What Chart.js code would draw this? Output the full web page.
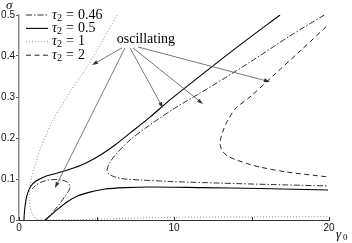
<!DOCTYPE html>
<html>
<head>
<meta charset="utf-8">
<script src="https://cdn.jsdelivr.net/npm/chart.js@4"></script>
<style>
  body { margin: 0; background: #fff; }
  #wrap { width: 352px; height: 243px; }
</style>
</head>
<body>
<div id="wrap"><canvas id="myChart"></canvas></div>
<script>
// tick labels
var xTicks = [0, 5, 10, 15, 20];
var xTickLabels = ['0', '', '10', '', '20'];
var yTicks = [0, 0.1, 0.2, 0.3, 0.4, 0.5];
var yTickLabels = ['0', '0.1', '0.2', '0.3', '0.4', '0.5'];

// legend values for tau_2
var tauValues = ['0.46', '0.5', '1', '2'];

// tau2 = 0.46 (dash-dot) : small loop near origin + C-shaped branch
var t046LoopX = [1.74, 2.19, 2.65, 3.03, 3.23, 3.29, 3.10, 2.65, 2.0, 1.48, 1.10, 0.84];
var t046LoopY = [0, 0.0195, 0.041, 0.061, 0.073, 0.083, 0.093, 0.098, 0.098, 0.093, 0.085, 0.076];
var t046CX = [19.7, 17.48, 14.9, 12.32, 10.06, 8.45, 7.16, 6.32, 5.87, 5.68, 5.81, 6.19, 6.84, 7.81, 9.74, 12.97, 16.19, 19.94];
var t046CY = [0.5, 0.449, 0.385, 0.324, 0.273, 0.232, 0.195, 0.163, 0.141, 0.122, 0.112, 0.105, 0.100, 0.0976, 0.094, 0.090, 0.0866, 0.083];

// tau2 = 0.5 (solid) : upper and lower branch
var t05UpX = [0.32, 0.35, 0.45, 0.58, 0.77, 1.10, 1.61, 2.32, 2.97, 3.61, 4.26, 5.23, 6.19, 7.16, 8.45, 9.74, 11.68, 14.26, 16.84];
var t05UpY = [0, 0.0195, 0.049, 0.068, 0.083, 0.095, 0.105, 0.113, 0.12, 0.128, 0.138, 0.158, 0.183, 0.212, 0.251, 0.293, 0.351, 0.427, 0.5];
var t05LowX = [1.68, 2.0, 2.52, 3.10, 3.81, 4.58, 5.55, 6.84, 8.45, 11.68, 15.55, 19.94];
var t05LowY = [0, 0.0098, 0.027, 0.044, 0.059, 0.068, 0.0756, 0.079, 0.0805, 0.079, 0.0768, 0.073];

// tau2 = 1 (dotted)
var t1UpX = [6.32, 5.23, 4.26, 3.29, 2.65, 2.19, 1.74, 1.35, 1.10, 0.84, 0.71, 0.68, 0.71, 0.84, 1.03, 1.23];
var t1UpY = [0.5, 0.427, 0.366, 0.312, 0.273, 0.244, 0.207, 0.171, 0.141, 0.110, 0.078, 0.054, 0.032, 0.0171, 0.0049, 0];
var t1LowX = [1.23, 4, 6, 8, 10, 14, 20];
var t1LowY = [0, 0.001, 0.003, 0.005, 0.0065, 0.0075, 0.008];

// tau2 = 2 (dashed)
var t2X = [19.81, 18.13, 16.52, 14.9, 14.0, 13.48, 13.16, 12.97, 13.03, 13.16, 13.55, 14.06, 14.77, 15.55, 17.29, 19.94];
var t2Y = [0.471, 0.412, 0.356, 0.300, 0.273, 0.244, 0.217, 0.190, 0.176, 0.166, 0.154, 0.146, 0.137, 0.129, 0.117, 0.105];

// "oscillating" annotation and its arrows
var noteText = 'oscillating';
var noteX = 8.19, noteY = 0.432;
var arrowFromX = [6.65, 6.84, 7.16, 7.35, 7.68];
var arrowFromY = [0.42, 0.42, 0.42, 0.42, 0.422];
var arrowToX = [4.71, 2.32, 9.29, 11.87, 16.19];
var arrowToY = [0.378, 0.078, 0.273, 0.283, 0.337];

function pts(xs, ys) {
  return xs.map(function (v, i) { return { x: v, y: ys[i] }; });
}

var styles = [
  { color: '#333', dash: [6, 2, 1.5, 2], width: 1 },
  { color: '#000', dash: [], width: 1.1 },
  { color: '#8c8c8c', dash: [1, 2], width: 1 },
  { color: '#222', dash: [5, 3.5], width: 1 }
];

function ds(xs, ys, s) {
  return {
    data: pts(xs, ys),
    showLine: true,
    borderColor: styles[s].color,
    borderDash: styles[s].dash,
    borderWidth: styles[s].width,
    pointRadius: 0,
    tension: 0.3,
    fill: false
  };
}

var overlay = {
  id: 'overlay',
  afterDatasetsDraw: function (chart) {
    var ctx = chart.ctx, x = chart.scales.x, y = chart.scales.y;
    var area = chart.chartArea;
    ctx.save();

    // x tick marks pointing into the plot
    ctx.strokeStyle = '#333';
    ctx.lineWidth = 1;
    xTicks.forEach(function (v) {
      var px = Math.round(x.getPixelForValue(v)) + 0.5;
      ctx.beginPath();
      ctx.moveTo(px, area.bottom);
      ctx.lineTo(px, area.bottom - 3);
      ctx.stroke();
    });

    // arrows
    ctx.strokeStyle = '#555';
    ctx.fillStyle = '#333';
    ctx.lineWidth = 0.8;
    for (var i = 0; i < arrowFromX.length; i++) {
      var x0 = x.getPixelForValue(arrowFromX[i]), y0 = y.getPixelForValue(arrowFromY[i]);
      var x1 = x.getPixelForValue(arrowToX[i]), y1 = y.getPixelForValue(arrowToY[i]);
      var a = Math.atan2(y1 - y0, x1 - x0);
      ctx.beginPath();
      ctx.moveTo(x0, y0);
      ctx.lineTo(x1 - 4 * Math.cos(a), y1 - 4 * Math.sin(a));
      ctx.stroke();
      ctx.beginPath();
      ctx.moveTo(x1, y1);
      ctx.lineTo(x1 - 6 * Math.cos(a) + 2 * Math.sin(a), y1 - 6 * Math.sin(a) - 2 * Math.cos(a));
      ctx.lineTo(x1 - 6 * Math.cos(a) - 2 * Math.sin(a), y1 - 6 * Math.sin(a) + 2 * Math.cos(a));
      ctx.closePath();
      ctx.fill();
    }

    // annotation text
    ctx.fillStyle = '#000';
    ctx.font = '14px "Liberation Serif", serif';
    ctx.textAlign = 'center';
    ctx.textBaseline = 'alphabetic';
    ctx.fillText(noteText, x.getPixelForValue(noteX), y.getPixelForValue(noteY));

    // legend
    ctx.textAlign = 'left';
    ctx.textBaseline = 'middle';
    tauValues.forEach(function (val, k) {
      var ly = 15 + k * 13.4;
      var s = styles[k];
      ctx.strokeStyle = s.color;
      ctx.lineWidth = s.width;
      ctx.setLineDash(s.dash);
      ctx.beginPath();
      ctx.moveTo(26, ly);
      ctx.lineTo(48, ly);
      ctx.stroke();
      ctx.setLineDash([]);
      var tx = 52;
      ctx.fillStyle = '#000';
      ctx.font = 'italic 14px "Liberation Serif", serif';
      ctx.fillText('\u03c4', tx, ly);
      tx += ctx.measureText('\u03c4').width;
      ctx.font = '10px "Liberation Serif", serif';
      ctx.fillText('2', tx, ly + 3);
      tx += ctx.measureText('2').width + 4;
      ctx.font = '14px "Liberation Serif", serif';
      ctx.fillText('=', tx, ly);
      tx += ctx.measureText('=').width + 4;
      ctx.fillText(val, tx, ly);
    });

    // axis titles
    ctx.font = 'italic 13px "Liberation Serif", serif';
    ctx.fillText('\u03c3', 6, 6);
    ctx.fillText('\u03b3', 336, 235);
    ctx.font = '9px "Liberation Serif", serif';
    ctx.fillText('0', 343, 238);

    ctx.restore();
  }
};

var ctxEl = document.getElementById('myChart').getContext('2d');
var chartOne = new Chart(ctxEl, {
  type: 'scatter',
  data: {
    datasets: [
      ds(t046LoopX, t046LoopY, 0),
      ds(t046CX, t046CY, 0),
      ds(t05UpX, t05UpY, 1),
      ds(t05LowX, t05LowY, 1),
      ds(t1UpX, t1UpY, 2),
      ds(t1LowX, t1LowY, 2),
      ds(t2X, t2Y, 3)
    ]
  },
  options: {
    responsive: true,
    maintainAspectRatio: false,
    animation: false,
    layout: { padding: { left: 0, right: 23, top: 15, bottom: 0 } },
    plugins: { legend: { display: false }, tooltip: { enabled: false } },
    scales: {
      x: {
        type: 'linear',
        min: 0, max: 20,
        afterBuildTicks: function (scale) {
          scale.ticks = xTicks.map(function (v) { return { value: v }; });
        },
        afterFit: function (scale) { scale.height = 23; },
        ticks: {
          padding: 2,
          maxRotation: 0,
          color: '#111',
          font: { family: '"Liberation Sans", Arial, sans-serif', size: 10 },
          callback: function (v, i) { return xTickLabels[i]; }
        },
        grid: { display: false, drawTicks: false },
        border: { display: true, color: '#333', width: 1 }
      },
      y: {
        type: 'linear',
        min: 0, max: 0.5,
        afterBuildTicks: function (scale) {
          scale.ticks = yTicks.map(function (v) { return { value: v }; });
        },
        afterFit: function (scale) { scale.width = 19; },
        ticks: {
          padding: 1,
          color: '#111',
          font: { family: '"Liberation Sans", Arial, sans-serif', size: 10 },
          callback: function (v, i) { return yTickLabels[i]; }
        },
        grid: { display: true, drawOnChartArea: false, drawTicks: true, tickLength: 3, color: '#555' },
        border: { display: true, color: '#8a8a8a', width: 1.5 }
      }
    }
  },
  plugins: [overlay]
});
</script>
</body>
</html>
